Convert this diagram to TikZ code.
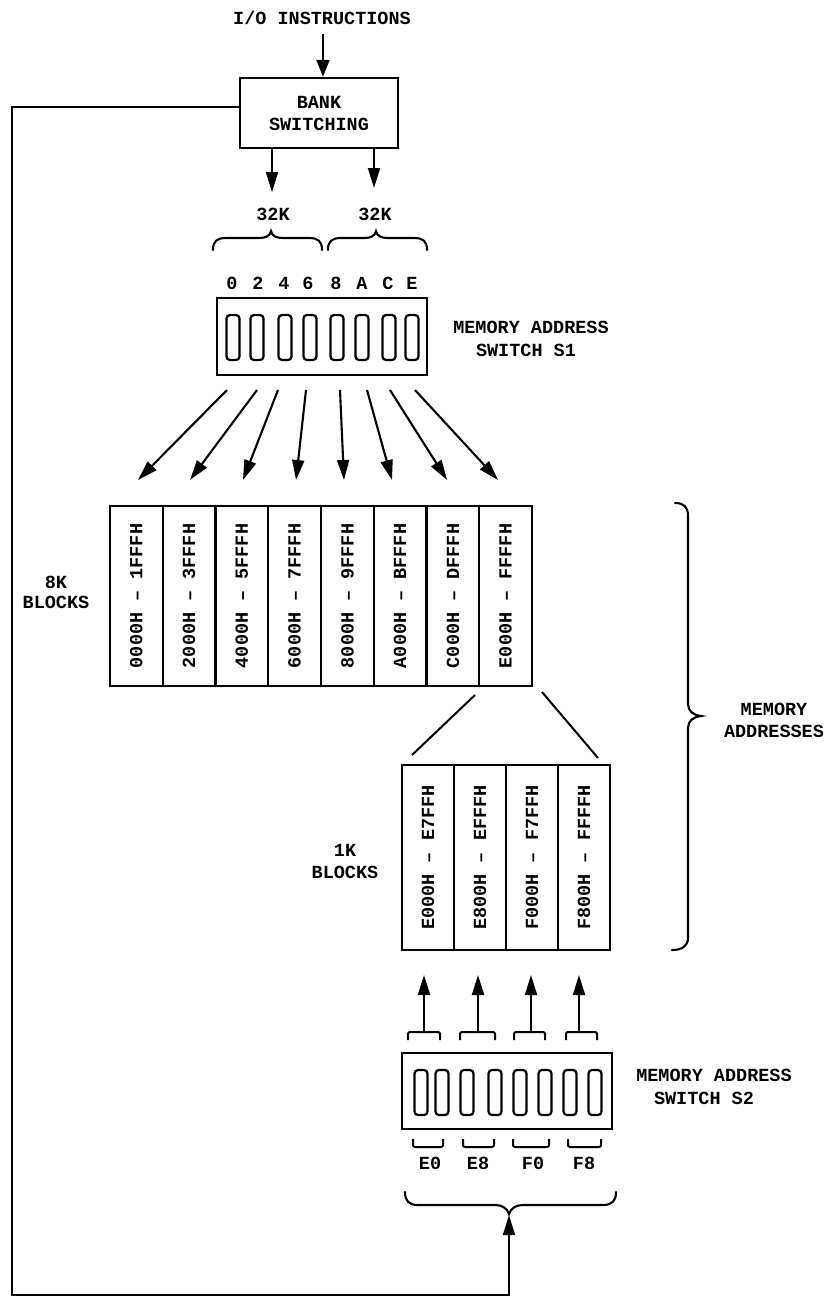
\documentclass[tikz,border=0pt]{standalone}
\usepackage{fontspec}
\setmainfont{Liberation Mono}
\usetikzlibrary{arrows.meta}
\begin{document}
\begin{tikzpicture}[x=1pt,y=-1pt,
  font=\fontsize{18.5}{22}\selectfont\bfseries,
  box/.style={draw, line width=2.3pt, inner sep=0pt, align=center},
  slider/.style={draw, line width=2.2pt, rounded corners=3.5pt, minimum width=13pt, minimum height=45pt, inner sep=0pt},
  colA/.style={draw, line width=2.1pt, rotate=90, inner sep=0pt, minimum height=52.75pt, minimum width=180pt},
  colB/.style={draw, line width=2.1pt, rotate=90, inner sep=0pt, minimum height=52pt, minimum width=185pt},
  arr/.style={line width=2.1pt, -{Triangle[length=20pt,width=12pt]}},
  ln/.style={line width=2pt},
  brc/.style={line width=2.1pt, line cap=round},
  txt/.style={inner sep=0pt, align=center}]
\useasboundingbox (0,0) rectangle (831,1299);

% top
\node[txt] (io) at (322,18) {I/O INSTRUCTIONS};
\node[box, minimum width=158pt, minimum height=70pt] (bank) at (319,113) {BANK\\SWITCHING};
\coordinate (ioa) at ([yshift=-9pt,xshift=1pt]io.south);
\draw[arr, -{Triangle[length=17pt,width=13pt]}] (ioa) -- (ioa |- bank.north);

\coordinate (a1) at (272,192);
\coordinate (a2) at (374,188);
\draw[arr] (bank.south -| a1) -- (a1);
\draw[arr] (bank.south -| a2) -- (a2);
\node[txt] (k1) at (273,214) {32K};
\node[txt] (k2) at (375,214) {32K};

% braces under 32K
\draw[brc] (213,250) .. controls (213,241) and (217,238) .. (226,238) -- (259,238)
  .. controls (266,238) and (270,236) .. (271,231)
  .. controls (272,236) and (276,238) .. (283,238) -- (309,238)
  .. controls (318,238) and (322,241) .. (322,250);
\draw[brc] (328,250) .. controls (328,241) and (332,238) .. (341,238) -- (364,238)
  .. controls (371,238) and (375,236) .. (376,231)
  .. controls (377,236) and (381,238) .. (388,238) -- (414,238)
  .. controls (423,238) and (427,241) .. (427,250);

% switch S1
\foreach \lx/\lt in {232/0,258/2,284/4,308/6,336/8,362/A,388/C,412/E}
  \node[txt] (h\lt) at (\lx,283) {\lt};
\node[box, minimum width=210pt, minimum height=77pt] (s1) at (322,336.5) {};
\foreach \i/\sx in {1/233,2/257,3/285,4/310,5/337,6/362,7/389,8/412}
  \node[slider] (p\i) at (\sx,337.5) {};
\node[txt] (s1l1) at (531,327) {MEMORY ADDRESS};
\node[txt] (s1l2) at (526,350) {SWITCH S1};

% 8K blocks
\node[colA] (c1) at (136.4,596) {0000H – 1FFFH};
\node[colA] (c2) at (189.1,596) {2000H – 3FFFH};
\node[colA] (c3) at (241.9,596) {4000H – 5FFFH};
\node[colA] (c4) at (294.6,596) {6000H – 7FFFH};
\node[colA] (c5) at (347.4,596) {8000H – 9FFFH};
\node[colA] (c6) at (400.1,596) {A000H – BFFFH};
\node[colA] (c7) at (452.9,596) {C000H – DFFFH};
\node[colA] (c8) at (505.6,596) {E000H – FFFFH};
\node[txt] (b8k) at (56,592) {8K\\[-2pt]BLOCKS};

\foreach \i/\fx/\tx in {1/227/138,2/257/190,3/278/243,4/306/296,5/340/344,6/367/392,7/390/447,8/415/498}{
  \coordinate (f\i) at (\fx,390);
  \coordinate (t\i) at (\tx,480);
  \draw[arr] (f\i) -- (t\i);
}

% fan lines to 1K
\coordinate (g1) at (475,695);
\coordinate (g2) at (412,755);
\coordinate (g3) at (542,692);
\coordinate (g4) at (598,758);
\draw[ln] (g1) -- (g2);
\draw[ln] (g3) -- (g4);

% 1K blocks
\node[colB] (d1) at (428,857.5) {E000H – E7FFH};
\node[colB] (d2) at (480,857.5) {E800H – EFFFH};
\node[colB] (d3) at (532,857.5) {F000H – F7FFH};
\node[colB] (d4) at (584,857.5) {F800H – FFFFH};
\node[txt] (b1k) at (345,861) {1K\\BLOCKS};

% memory addresses brace
\draw[brc] (675,503) .. controls (684,503) and (688,507) .. (688,516) -- (688,704)
  .. controls (688,711) and (693,715) .. (701,716)
  .. controls (693,717) and (688,721) .. (688,728) -- (688,938)
  .. controls (688,946) and (682,950) .. (672,950);
\node[txt] (madr) at (774,720) {MEMORY\\ADDRESSES};

% switch S2
\foreach \i/\ux/\bl/\br in {1/424/408/440,2/478/460/495,3/531/514/545,4/579/566/597}{
  \draw[ln, rounded corners=2pt] (\bl,1040) |- (\br,1032) -- (\br,1040);
  \coordinate (u\i) at (\ux,1032);
  \coordinate (v\i) at (\ux,975);
  \draw[arr] (u\i) -- (v\i);
}
\node[box, minimum width=210pt, minimum height=76pt] (s2) at (507,1091) {};
\foreach \i/\sx in {1/421,2/442,3/467,4/495,5/520,6/545,7/570,8/595}
  \node[slider] (q\i) at (\sx,1092.5) {};
\node[txt] (s2l1) at (714,1075) {MEMORY ADDRESS};
\node[txt] (s2l2) at (704,1098) {SWITCH S2};

\foreach \bl/\br in {413/443,463/494,513/549,568/601}
  \draw[ln, rounded corners=2pt] (\bl,1139) |- (\br,1147) -- (\br,1139);
\node[txt] (e0) at (430,1163) {E0};
\node[txt] (e8) at (478,1163) {E8};
\node[txt] (f0) at (533,1163) {F0};
\node[txt] (f8) at (584,1163) {F8};

% bottom brace
\draw[brc] (405,1192) .. controls (405,1201) and (409,1205) .. (418,1205) -- (495,1205)
  .. controls (502,1205) and (507,1208) .. (509,1214)
  .. controls (511,1208) and (516,1205) .. (523,1205) -- (603,1205)
  .. controls (612,1205) and (616,1201) .. (616,1192);

% feedback loop
\coordinate (corner) at (12,1295);
\coordinate (btip) at (509,1215);
\draw[arr, line width=1.7pt] ([yshift=6pt]bank.west) -| (corner) -| (btip);
\end{tikzpicture}
\end{document}
